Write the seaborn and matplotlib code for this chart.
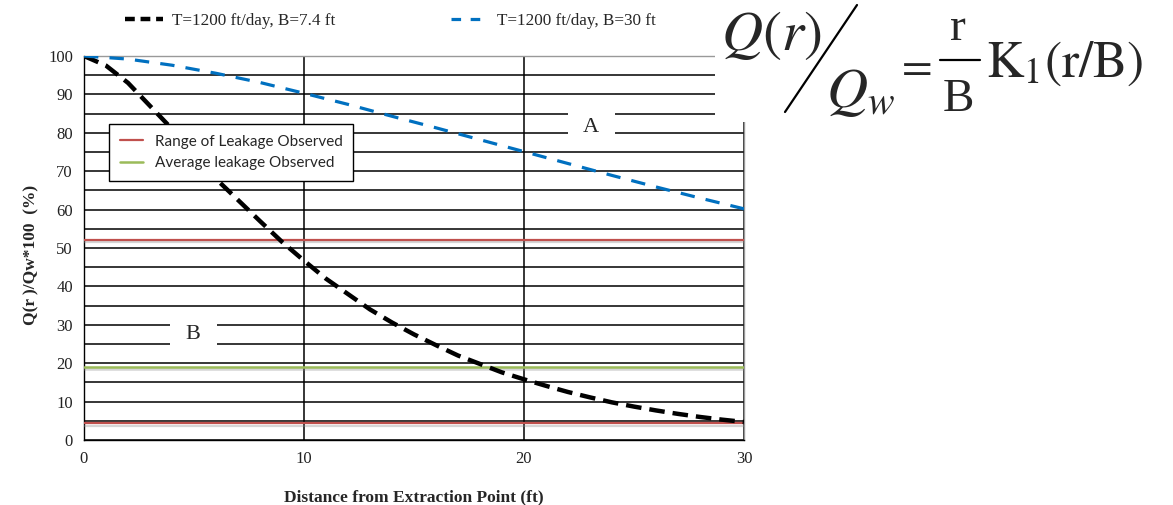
import numpy as np
import pandas as pd
import matplotlib
matplotlib.use('Agg')
import matplotlib.pyplot as plt
import matplotlib.patheffects as pe
from matplotlib.lines import Line2D
from matplotlib.patches import Rectangle
import seaborn as sns

# distance from extraction point (ft)
r_ft = list(range(0, 31))
# T=1200 ft/day, B=7.4 ft
q_b74 = [100, 97.5, 93, 87, 81, 75, 68, 62.5, 57, 51.6, 46.7, 42, 38, 34, 30.6,
         27.5, 24.7, 22, 19.8, 17.6, 15.8, 14.1, 12.5, 11.1, 9.8, 8.7, 7.7, 6.8,
         6.0, 5.3, 4.7]
# T=1200 ft/day, B=30 ft
r_ft2 = list(range(0, 31, 2))
q_b30 = [100, 99.2, 97.6, 95.5, 93.1, 90.3, 87.4, 84.3, 81.3, 78.2, 75.1, 72.0,
         68.9, 65.9, 63.0, 60.2]
# observed leakage
range_leak = [52, 4.3]
avg_leak = 19

series_names = ['T=1200 ft/day, B=7.4 ft', 'T=1200 ft/day, B=30 ft']
inset_names = ['Range of Leakage Observed', 'Average leakage Observed']

sns.set_style('white')
plt.rcParams['font.family'] = ['Liberation Serif', 'DejaVu Serif']
plt.rcParams['mathtext.fontset'] = 'stix'

W, H = 1173, 505
fig = plt.figure(figsize=(W / 100, H / 100), dpi=100)
ax = fig.add_axes([84 / W, 1 - 440 / H, 660 / W, 384 / H])

red = '#c0504d'
green = '#9bbb59'
blue = '#0070c0'
shadow = [pe.SimpleLineShadow(offset=(0, -1.5), shadow_color='#888888', alpha=0.35),
          pe.Normal()]
for v in range_leak:
    ax.axhline(v, color=red, lw=1.6, zorder=3, path_effects=shadow)
ax.axhline(avg_leak, color=green, lw=1.8, zorder=3, path_effects=shadow)

df1 = pd.DataFrame({'r': r_ft, 'q': q_b74})
df2 = pd.DataFrame({'r': r_ft2, 'q': q_b30})
sns.lineplot(data=df1, x='r', y='q', ax=ax, color='black', lw=3.2, zorder=4)
ax.lines[-1].set_dashes([3.5, 1.8])
sns.lineplot(data=df2, x='r', y='q', ax=ax, color=blue, lw=2.3, zorder=4)
ax.lines[-1].set_dashes([4.5, 3.5])

ax.set_xlim(0, 30)
ax.set_ylim(0, 100)
ax.set_xticks([0, 10, 20, 30])
ax.set_yticks(range(0, 101, 10))
ax.set_yticks(range(5, 100, 10), minor=True)
ax.tick_params(axis='both', which='major', length=5, width=1, color='#333333',
               labelsize=12, labelcolor='#222222', pad=3)
ax.tick_params(axis='y', which='minor', length=0)
ax.grid(True, axis='y', which='both', color='black', lw=1.1, zorder=1)
ax.grid(True, axis='x', which='major', color='black', lw=1.1, zorder=1)
ax.set_axisbelow(True)
for s in ['left', 'bottom']:
    ax.spines[s].set_color('black')
    ax.spines[s].set_linewidth(1.0)
for s in ['top', 'right']:
    ax.spines[s].set_color('#999999')
    ax.spines[s].set_linewidth(1.0)

ax.set_xlabel('Distance from Extraction Point (ft)', fontsize=12.5, fontweight='bold')
ax.set_ylabel('Q(r )/Qw*100  (%)', fontsize=12.5, fontweight='bold')
ax.xaxis.set_label_coords(0.5, -0.128)
ax.yaxis.set_label_coords(-0.067, 0.482)

# region labels with white gaps in the gridlines
ax.add_patch(Rectangle((22.0, 78.5), 2.15, 8.0, facecolor='white', edgecolor='none', zorder=2))
ax.text(23.05, 81.5, 'A', fontsize=16, ha='center', va='center', zorder=5)
ax.add_patch(Rectangle((3.9, 23.5), 2.15, 8.0, facecolor='white', edgecolor='none', zorder=2))
ax.text(4.95, 27.5, 'B', fontsize=16, ha='center', va='center', zorder=5)

# inset legend
inset_handles = [Line2D([], [], color=red, lw=1.6), Line2D([], [], color=green, lw=1.8)]
leg = ax.legend(inset_handles, inset_names, loc='upper left',
                bbox_to_anchor=(0.038, 0.823), borderaxespad=0, frameon=True,
                fancybox=False, edgecolor='black', framealpha=1, borderpad=0.7,
                handlelength=1.5, handletextpad=0.8, labelspacing=0.5,
                prop={'family': 'Lato', 'size': 11})
leg.get_frame().set_linewidth(1.0)
leg.set_zorder(6)

# top legend
top_handles = [Line2D([], [], color='black', lw=3.2, dashes=[2.2, 1.3]),
               Line2D([], [], color=blue, lw=2.3, dashes=[3, 3])]
fig.legend(top_handles, series_names, loc='center', bbox_to_anchor=(0.333, 0.958),
           ncol=2, frameon=False, columnspacing=6.8, handlelength=2.2,
           handletextpad=0.5, prop={'size': 12.3})

# formula overlay (white background, covers the upper right of the chart)
fig.patches.append(Rectangle((715 / W, 1 - 122 / H), 458 / W, 122 / H,
                             transform=fig.transFigure, facecolor='white',
                             edgecolor='none', zorder=10))
fig.text(721 / W, 1 - 50 / H, r'$Q(r)$', fontsize=41, ha='left', va='baseline', zorder=11)
fig.add_artist(Line2D([785 / W, 857 / W], [1 - 112 / H, 1 - 5 / H],
                      transform=fig.transFigure, color='black', lw=1.6, zorder=11))
fig.text(826 / W, 1 - 107 / H, r'$Q_w$', fontsize=41, ha='left', va='baseline', zorder=11)
fig.text(913 / W, 1 - 67 / H, r'$=$', fontsize=32, ha='center', va='center', zorder=11)
fig.text(958 / W, 1 - 40 / H, 'r', fontsize=34, ha='center', va='baseline', zorder=11)
fig.add_artist(Line2D([940 / W, 980 / W], [1 - 60 / H, 1 - 60 / H],
                      transform=fig.transFigure, color='black', lw=1.6, zorder=11))
fig.text(958 / W, 1 - 111 / H, 'B', fontsize=34, ha='center', va='baseline', zorder=11)
fig.text(986 / W, 1 - 77 / H, r'$\mathrm{K}_1\mathrm{(r/B)}$', fontsize=37,
         ha='left', va='baseline', zorder=11)

fig.savefig('out.png', dpi=100)
